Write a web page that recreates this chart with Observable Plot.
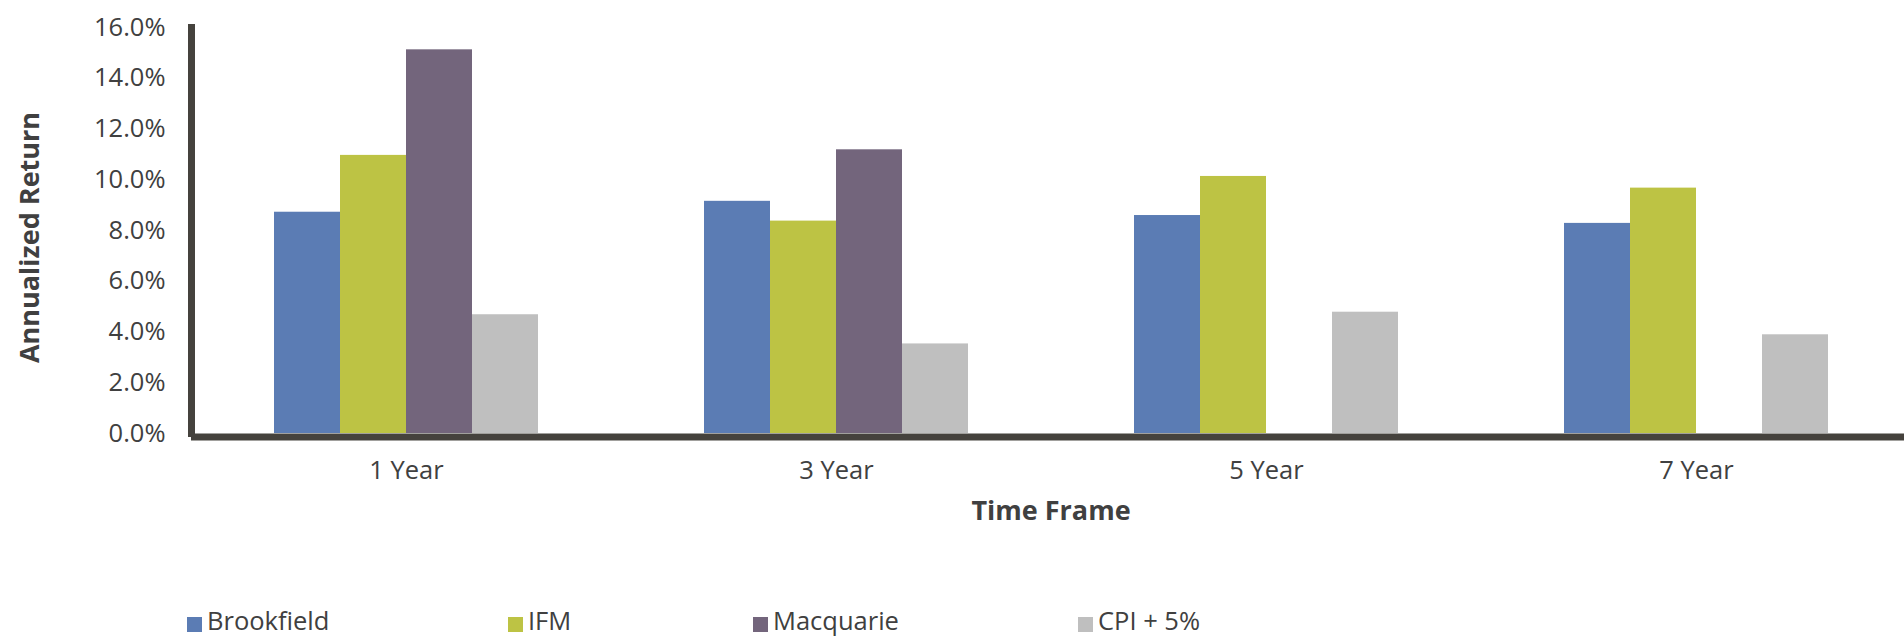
<!DOCTYPE html>
<html>
<head>
<meta charset="utf-8">
<script src="https://cdn.jsdelivr.net/npm/d3@7"></script>
<script src="https://cdn.jsdelivr.net/npm/@observablehq/plot@0.6"></script>
<style>
  html, body { margin: 0; padding: 0; background: #fff; }
  #wrap { position: relative; width: 1904px; height: 638px; overflow: hidden; font-family: "Open Sans", sans-serif; color: #404040; }
  #legend { position: relative; height: 78px; }
  .sw { position: absolute; top: 57px; width: 15px; height: 15px; }
  .lt { position: absolute; top: 47px; font-size: 25.5px; line-height: 26px; white-space: nowrap; color: #404040; }
</style>
</head>
<body>
<div id="wrap">
  <div id="chart"></div>
  <div id="legend"></div>
</div>
<script>
const timeFrames = ["1 Year", "3 Year", "5 Year", "7 Year"];
const managers = ["Brookfield", "IFM", "Macquarie", "CPI + 5%"];
const brookfield = [8.72, 9.15, 8.59, 8.28];
const ifm = [10.96, 8.37, 10.13, 9.67];
const macquarie = [15.12, 11.18, null, null];
const cpiPlus5 = [4.68, 3.53, 4.78, 3.89];
const yTicks = [0, 2, 4, 6, 8, 10, 12, 14, 16];
const colors = ["#5B7CB4", "#BDC344", "#73657C", "#BFBFBF"];
const axisColor = "#45423D";
const textColor = "#404040";

const seriesValues = [brookfield, ifm, macquarie, cpiPlus5];
const rows = [];
timeFrames.forEach((t, i) => {
  managers.forEach((m, j) => {
    const v = seriesValues[j][i];
    if (v != null) rows.push({time: t, manager: m, value: v});
  });
});

const W = 1904, H = 560;
const plot = Plot.plot({
  width: W,
  height: H,
  marginLeft: 190,
  marginRight: -8,
  marginTop: 27,
  marginBottom: 127,
  style: {fontFamily: "Open Sans, sans-serif", color: textColor, background: "transparent"},
  fx: {domain: timeFrames, paddingInner: 0, paddingOuter: 0, label: null, axis: null},
  x: {domain: managers, paddingInner: 0, paddingOuter: 1.249, axis: null},
  y: {domain: [0, 16], label: null},
  color: {domain: managers, range: colors},
  marks: [
    Plot.barY(rows, {fx: "time", x: "manager", y: "value", fill: "manager"}),
    Plot.ruleY([0], {stroke: axisColor, strokeWidth: 7, dy: 3.5}),
    Plot.frame({anchor: "left", facetAnchor: "left", stroke: axisColor, strokeWidth: 7}),
    Plot.axisY({ticks: yTicks, tickFormat: d => d.toFixed(1) + "%", tickSize: 0, tickPadding: 26, fontSize: 25.5, fill: textColor, label: null}),
    Plot.axisFx({anchor: "bottom", tickSize: 0, tickPadding: 27, fontSize: 25.5, fill: textColor, label: null})
  ]
});

const svg = d3.select(plot);
svg.append("text")
  .attr("x", 1051).attr("y", 519.5)
  .attr("text-anchor", "middle")
  .attr("font-family", "Open Sans, sans-serif")
  .attr("font-weight", "bold").attr("font-size", 27)
  .attr("fill", textColor)
  .text("Time Frame");
svg.append("text")
  .attr("transform", "translate(39,237.5) rotate(-90)")
  .attr("text-anchor", "middle")
  .attr("font-family", "Open Sans, sans-serif")
  .attr("font-weight", "bold").attr("font-size", 27)
  .attr("fill", textColor)
  .text("Annualized Return");

document.getElementById("chart").appendChild(plot);

const legendSwatchX = [187, 508, 753, 1078];
const legend = d3.select("#legend");
managers.forEach((m, i) => {
  legend.append("div").attr("class", "sw")
    .style("left", legendSwatchX[i] + "px")
    .style("background", colors[i]);
  legend.append("div").attr("class", "lt")
    .style("left", (legendSwatchX[i] + 20) + "px")
    .text(m);
});
</script>
</body>
</html>
